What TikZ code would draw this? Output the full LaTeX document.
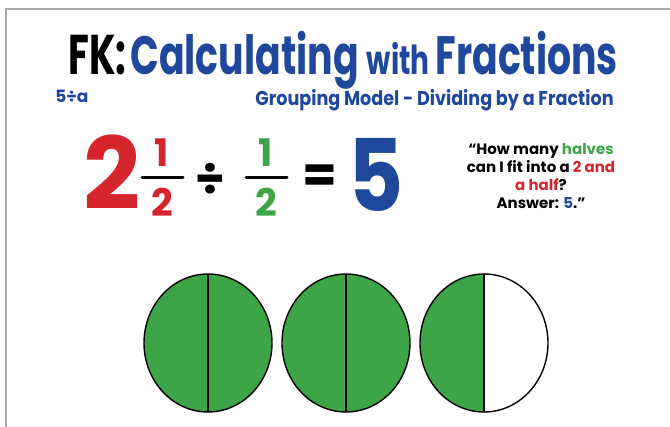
\documentclass[tikz,border=0pt]{standalone}
\usepackage{fontspec}
\setmainfont{Poppins}
\usetikzlibrary{positioning}
\definecolor{fkblue}{RGB}{31,72,156}
\definecolor{fkred}{RGB}{212,37,44}
\definecolor{fkgreen}{RGB}{61,165,72}
\definecolor{framegray}{RGB}{170,170,170}
\tikzset{every picture/.style={line width=0.75pt}}
\tikzset{
  heavy/.style={inner sep=0pt,font=\bfseries},
  half/.style={fill=fkgreen},
  rim/.style={draw=black,line width=1.4pt}
}

\begin{document}
\begin{tikzpicture}[x=1pt,y=-1pt]
    \useasboundingbox (0,0) rectangle (670,427);
    \fill[white] (0,0) rectangle (670,427);
    % frame lines
    \draw[framegray,line width=1.5pt] (6,427) -- (6,9) -- (670,9);

    % heading
    \node[heavy,anchor=base west,font=\fontsize{56}{60}\bfseries] (fk) at (68,75) {\scalebox{0.68}[1]{FK:}};
    \node[heavy,anchor=base west,font=\fontsize{54}{56}\bfseries,text=fkblue] (calc) at (130,75)
        {\scalebox{0.7}[1]{Calculating \fontsize{40}{42}\selectfont with \fontsize{54}{56}\selectfont Fractions}};
    \node[heavy,anchor=base west,font=\fontsize{17}{18}\bfseries,text=fkblue] (code) at (55,103) {5÷a};
    \node[heavy,anchor=base east,font=\fontsize{20}{22}\bfseries,text=fkblue] (sub) at (614,106)
        {\scalebox{0.88}[1]{Grouping Model - Dividing by a Fraction}};

    % the sum
    \node[heavy,anchor=base west,font=\fontsize{100}{100}\bfseries,text=fkred] (two) at (83,210) {2};
    \draw[line width=3pt,line cap=round] (142,178) -- (183,178);
    \node[heavy,font=\fontsize{38}{40}\bfseries,text=fkred] (n1) at (162,153) {1};
    \node[heavy,font=\fontsize{38}{40}\bfseries,text=fkred] (d1) at (162,202) {2};
    \node[heavy,font=\fontsize{48}{48}\bfseries] (div) at (210,179) {÷};
    \draw[line width=3pt,line cap=round] (246,178) -- (287,178);
    \node[heavy,font=\fontsize{38}{40}\bfseries,text=fkgreen] (n2) at (266,153) {1};
    \node[heavy,font=\fontsize{38}{40}\bfseries,text=fkgreen] (d2) at (266,202) {2};
    \node[heavy,font=\fontsize{50}{50}\bfseries] (eq) at (320,179) {=};
    \node[heavy,anchor=base west,font=\fontsize{100}{100}\bfseries,text=fkblue] (five) at (348,212) {\scalebox{0.85}[1]{5}};

    % the question
    \node[heavy,align=center,font=\fontsize{15}{18}\bfseries] (ask) at (541,176)
        {“How many \textcolor{fkgreen}{halves}\\
         can I fit into a \textcolor{fkred}{2 and}\\
         \textcolor{fkred}{a half}?\\
         Answer: \textcolor{fkblue}{5}.”};

    % circles cut in halves
    \fill[half] (208,343) ellipse (64 and 69);
    \draw[rim] (208,343) ellipse (64 and 69);
    \draw[rim] (208,274) -- (208,412);
    \fill[half] (346,343) ellipse (64 and 69);
    \draw[rim] (346,343) ellipse (64 and 69);
    \draw[rim] (346,274) -- (346,412);
    \begin{scope}
        \clip (410,260) rectangle (484,420);
        \fill[half] (484,343) ellipse (64 and 69);
    \end{scope}
    \draw[rim] (484,343) ellipse (64 and 69);
    \draw[rim] (484,274) -- (484,412);
\end{tikzpicture}
\end{document}
